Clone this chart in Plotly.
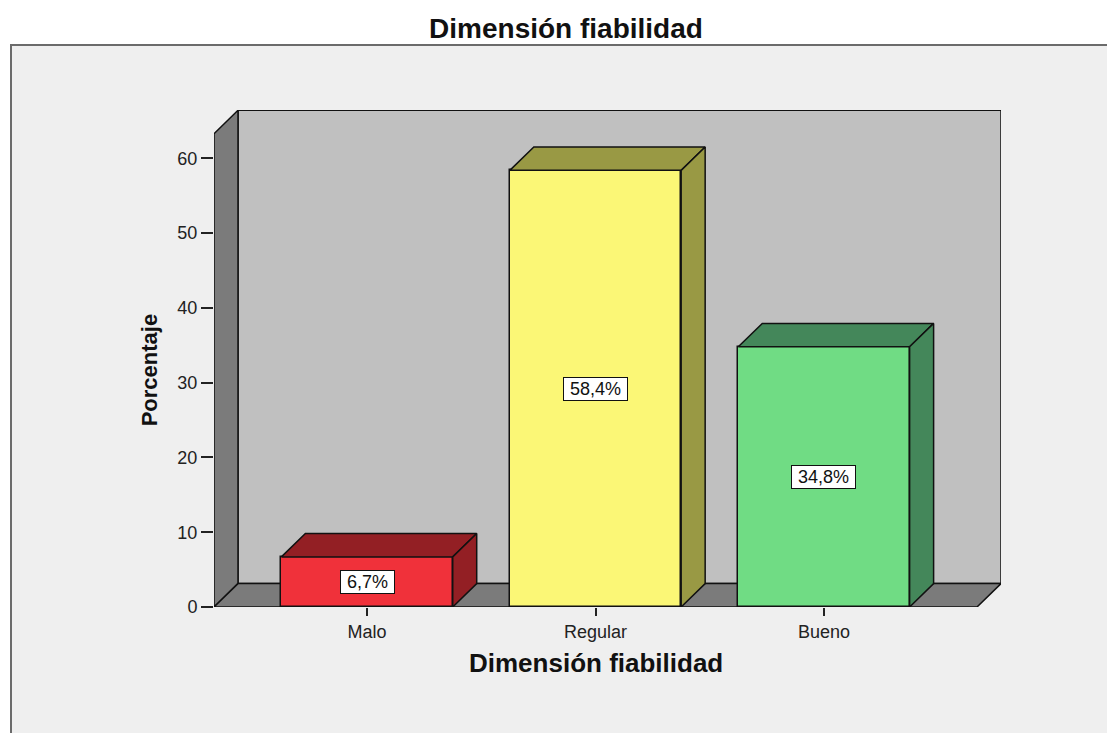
import plotly.graph_objects as go

# ---- data ----
categories = ["Malo", "Regular", "Bueno"]
percentages = [6.7, 58.4, 34.8]
value_labels = ["6,7%", "58,4%", "34,8%"]
y_ticks = [0, 10, 20, 30, 40, 50, 60]

# ---- styling ----
front_colors = ["#f0313a", "#fbf776", "#70dc84"]
shade_colors = ["#931f24", "#999944", "#44875a"]
WALL_BACK = "#c0c0c0"
WALL_SIDE = "#7b7b7b"
PANEL = "#efefef"
EDGE = dict(color="#111111", width=1.5)
FONT = "Liberation Sans, Arial, sans-serif"
NBSP = "\u00a0"

BAR_W = 0.75
DX, DY = 0.105, 3.13          # oblique depth offset, in axis units
X0, X1 = -0.67, 2.67          # front plane horizontal extent
Y_TOP = 63.3                  # front plane top of the value axis
X_RANGE = [X0, X1 + DX]
Y_RANGE = [0, 66.47]

W, H = 1107, 733
M_L, M_R, M_T, M_B = 214, 106, 110, 126
PW, PH = W - M_L - M_R, H - M_T - M_B


def px_x(p):
    return (p - M_L) / PW


def px_y(p):
    return (H - M_B - p) / PH


def poly_path(pts):
    return "M " + " L ".join(f"{x},{y}" for x, y in pts) + " Z"


fig = go.Figure()

# front faces of the bars
fig.add_trace(go.Bar(
    x=list(range(len(categories))), y=percentages, width=BAR_W,
    marker=dict(color=front_colors, line=EDGE),
    hoverinfo="skip", showlegend=False,
))

# top and side faces of each bar
for i, v in enumerate(percentages):
    xl, xr = i - BAR_W / 2, i + BAR_W / 2
    top = [(xl, v), (xr, v), (xr + DX, v + DY), (xl + DX, v + DY), (xl, v)]
    side = [(xr, 0), (xr, v), (xr + DX, v + DY), (xr + DX, DY), (xr, 0)]
    for pts in (top, side):
        fig.add_trace(go.Scatter(
            x=[p[0] for p in pts], y=[p[1] for p in pts],
            mode="lines", fill="toself", fillcolor=shade_colors[i],
            line=EDGE, hoverinfo="skip", showlegend=False,
        ))

shapes = [
    # outer panel
    dict(type="rect", xref="paper", yref="paper", layer="below",
         x0=px_x(11), x1=px_x(1130), y0=px_y(760), y1=px_y(45),
         fillcolor=PANEL, line=dict(color="#6b6b6b", width=2)),
    # back wall
    dict(type="path", xref="x", yref="y", layer="below",
         path=poly_path([(X0 + DX, DY), (X1 + DX, DY),
                         (X1 + DX, Y_TOP + DY), (X0 + DX, Y_TOP + DY)]),
         fillcolor=WALL_BACK, line=EDGE),
    # left side wall
    dict(type="path", xref="x", yref="y", layer="below",
         path=poly_path([(X0, 0), (X0, Y_TOP), (X0 + DX, Y_TOP + DY), (X0 + DX, DY)]),
         fillcolor=WALL_SIDE, line=EDGE),
    # floor
    dict(type="path", xref="x", yref="y", layer="below",
         path=poly_path([(X0, 0), (X1, 0), (X1 + DX, DY), (X0 + DX, DY)]),
         fillcolor=WALL_SIDE, line=EDGE),
]

annotations = []
for i, (v, lab) in enumerate(zip(percentages, value_labels)):
    annotations.append(dict(
        x=i, y=v / 2, xref="x", yref="y", text=NBSP + lab + NBSP, showarrow=False,
        bgcolor="white", bordercolor="#111111", borderwidth=1, borderpad=1,
        font=dict(family=FONT, size=18, color="#111111"),
    ))

annotations += [
    dict(text="<b>Dimensión fiabilidad</b>", x=1, xref="x",
         y=px_y(663), yref="paper", showarrow=False, yanchor="middle",
         font=dict(family=FONT, size=26, color="#111111")),
    dict(text="<b>Porcentaje</b>", x=px_x(149), xref="paper",
         y=Y_TOP / 2, yref="y", showarrow=False, textangle=-90,
         xanchor="center", yanchor="middle",
         font=dict(family=FONT, size=22, color="#111111")),
]

fig.update_layout(
    width=W, height=H,
    margin=dict(l=M_L, r=M_R, t=M_T, b=M_B, pad=0),
    paper_bgcolor="white", plot_bgcolor=PANEL,
    title=dict(text="<b>Dimensión fiabilidad</b>", x=566 / W, xref="container",
               xanchor="center", y=1 - 28 / H, yref="container", yanchor="middle",
               font=dict(family=FONT, size=28, color="#111111")),
    shapes=shapes, annotations=annotations,
    bargap=0, showlegend=False,
    xaxis=dict(range=X_RANGE, tickvals=list(range(len(categories))),
               ticktext=categories, ticks="outside", ticklen=8, tickwidth=1.5,
               tickcolor="#222222", showgrid=False, zeroline=False, showline=False,
               fixedrange=True,
               tickfont=dict(family=FONT, size=18, color="#222222")),
    yaxis=dict(range=Y_RANGE, tickvals=y_ticks, ticks="outside", ticklen=12,
               tickwidth=1.5, tickcolor="#222222", showgrid=False, zeroline=False,
               showline=False, fixedrange=True,
               tickfont=dict(family=FONT, size=18, color="#222222")),
)

fig.write_html("out.html")
